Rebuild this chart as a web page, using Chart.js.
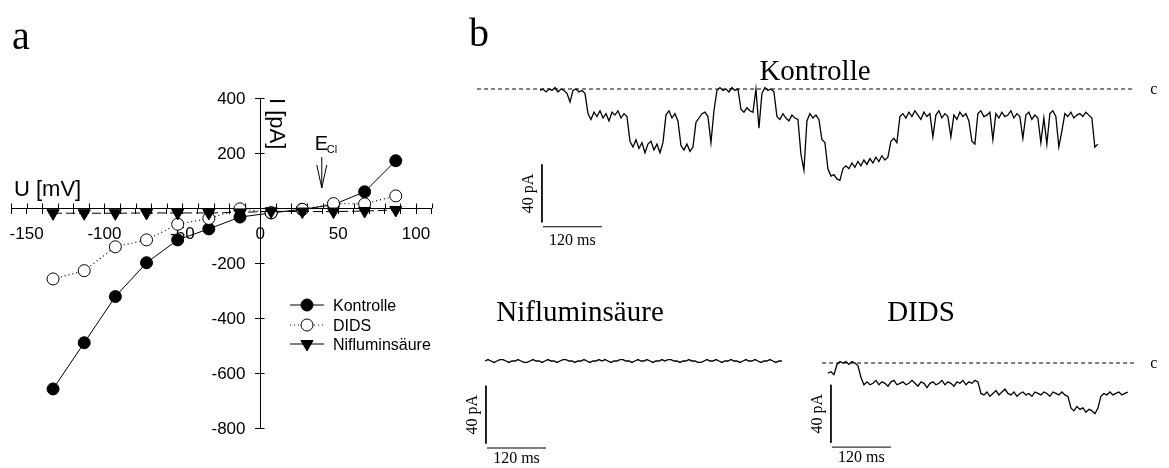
<!DOCTYPE html>
<html>
<head>
<meta charset="utf-8">
<script src="https://cdn.jsdelivr.net/npm/chart.js@4.4.1/dist/chart.umd.min.js"></script>
<style>
    body { margin: 0; background: #fff; width: 1169px; height: 468px; overflow: hidden; position: relative; }
    canvas { position: absolute; }
</style>
</head>
<body>
<canvas id="iv" width="460" height="468" style="left:0;top:0"></canvas>
<canvas id="kon" width="699" height="200" style="left:470px;top:50px"></canvas>
<canvas id="nif" width="340" height="178" style="left:460px;top:290px"></canvas>
<canvas id="dids" width="369" height="178" style="left:800px;top:290px"></canvas>
<script>
/**
 * Panel a : current / voltage relation
 */
var voltage   = [-133, -113, -93, -73, -53, -33, -13, 7, 27, 47, 67, 87];
var kontrolle = [-658, -490, -322, -199, -116, -76, -33, -18, -5, 12, 59, 172];
var dids      = [-258, -228, -141, -116, -59, -38, -3, -17, -5, 16, 15, 44];
var niflumin  = [-19, -19, -19, -18, -18, -18, -16, -12, -13, -13, -11, -7];
var xTickLabels = [-150, -100, -50, 0, 50, 100];
var yTickLabels = [400, 200, -200, -400, -600, -800];
var eCl = 39.5;              // reversal potential for Cl- (mV)
var eClArrow = [185, 73];    // arrow from / to (pA)

/**
 * Panel b : single channel traces (pA, 0 = closed level), one sample each 6.1 ms
 */
var sampleMs = 6.1;
var kontrolleTrace = [
    -1, 0, -2, 0, -1, 1, -2, 0, -1, -3, -9, -1, 0, -2, -1, -3,
    -17, -21, -16, -19, -15, -20, -17, -22, -16, -18, -15, -20, -17, -19,
    -36, -40, -35, -41, -37, -44, -38, -36, -42, -38, -44, -37,
    -18, -15, -20, -17, -22,
    -39, -42, -38, -43, -40,
    -23, -20, -17, -16, -19, -37, -15,
    -1, 1, -1, 0, -2, 1, -1, 0,
    -14, -16, -13, -15, -16,
    0, -27, -3, 1, -1, 0, -2,
    -19, -21, -17, -20, -22, -18, -20, -21,
    -45, -56,
    -22, -17, -20, -18, -21,
    -35, -37,
    -55, -60, -59, -62, -63, -55, -53, -55, -51, -54, -50, -53, -49, -52, -48, -51, -47, -50, -46, -49, -47,
    -36, -34, -37,
    -19, -17, -20, -16, -19, -15, -18, -21, -16, -19, -17, -33, -18, -15, -20, -17, -19, -33, -18, -21,
    -16, -19, -17, -22, -36, -38, -17, -15, -19, -18, -16, -35, -17, -20, -16, -19, -18, -15, -20, -17,
    -19, -34, -18, -16, -21, -18, -20, -37, -20, -38, -17, -15, -19, -40, -29, -17, -19, -16, -20, -18,
    -17, -19, -16, -18, -20,
    -40, -38
];
var niflTrace = [
    0, 1, 0, -1, 0, 1, 1, 0, -1, 0, 0, 1, 0, -1, -1, 0, 1, 0, 0, -1,
    0, 1, 0, 0, -1, 0, 1, 1, 0, 0, -1, 0, 0, 1, 0, -1, 0, 0, 1, 0,
    1, 0, -1, 0, 0, 1, 1, 0, 0, -1, 0, 1, 0, 0, 1, 0, -1, 0, 0, 1,
    0, 1, 1, 0, 0, -1, 0, 0, 1, 0, 0, -1, -1, 0, 1, 0, 0, 1, 0, -1,
    0, 0, 1, 0, 0, -1, 0, 1, 0, 0, 1, 0, -1, 0, 0, 1, 0, -1, 0, 0
];
var didsTrace = [
    -7, -6, -8, -1, 1, 0, 1, -1, 1, 0, -2, -10, -15,
    -13, -15, -14, -12, -15, -13, -14, -16, -13, -12, -15, -14, -13, -15, -14, -12, -14, -16, -13, -14,
    -17, -14, -13, -15, -14, -12, -15, -13, -14, -16, -13, -14, -12, -15, -13, -14, -12, -13,
    -21, -22, -20, -23, -21, -19, -22, -20, -18, -21, -22, -20, -23, -21, -20, -22, -21, -23, -20, -21,
    -22, -20, -21, -23, -20, -21, -22, -20, -22, -23,
    -31, -33, -30, -32, -31, -34, -32, -33, -35, -31,
    -23, -21, -22, -20, -22, -21, -20, -22, -21, -20
];
var barPA = 40;
var barMS = 120;

Chart.defaults.font.family = '"Liberation Sans", Arial, sans-serif';
Chart.defaults.color = '#000';

var SANS = '"Liberation Sans", Arial, sans-serif';
var SERIF = '"Liberation Serif", "Times New Roman", serif';

function drawText(ctx, txt, x, y, font, align, angle) {
    ctx.save();
    ctx.translate(x, y);
    if (angle) ctx.rotate(angle);
    ctx.font = font;
    ctx.textAlign = align || 'left';
    ctx.textBaseline = 'alphabetic';
    ctx.fillStyle = '#000';
    ctx.fillText(txt, 0, 0);
    ctx.restore();
}

function marker(ctx, style, r, x, y, fill) {
    ctx.save();
    ctx.beginPath();
    if (style === 'circle') {
        ctx.arc(x, y, r, 0, Math.PI * 2);
    } else {
        // down pointing triangle
        ctx.moveTo(x, y + r);
        ctx.lineTo(x - r * Math.sin(Math.PI / 3), y - r / 2);
        ctx.lineTo(x + r * Math.sin(Math.PI / 3), y - r / 2);
        ctx.closePath();
    }
    ctx.fillStyle = fill;
    ctx.fill();
    ctx.lineWidth = 1;
    ctx.strokeStyle = '#000';
    ctx.setLineDash([]);
    ctx.stroke();
    ctx.restore();
}

function pairs(xs, ys) {
    return xs.map(function (v, i) { return {x: v, y: ys[i]}; });
}

/**
 * Axis extras: inner half of the crossing ticks and y tick labels
 */
var ivAxes = {
    id: 'ivAxes',
    beforeDatasetsDraw: function (chart) {
        var ctx = chart.ctx;
        var xs = chart.scales.x, ys = chart.scales.y;
        var x0 = Math.round(xs.getPixelForValue(0)) + 0.5;
        var y0 = Math.round(ys.getPixelForValue(0)) + 0.5;
        ctx.save();
        ctx.strokeStyle = '#000';
        ctx.lineWidth = 1;
        ctx.beginPath();
        xs.ticks.forEach(function (t) {
            var px = Math.round(xs.getPixelForValue(t.value)) + 0.5;
            ctx.moveTo(px, y0);
            ctx.lineTo(px, y0 - 5);
        });
        ys.ticks.forEach(function (t) {
            var py = Math.round(ys.getPixelForValue(t.value)) + 0.5;
            ctx.moveTo(x0, py);
            ctx.lineTo(x0 + 4, py);
        });
        ctx.stroke();
        ctx.restore();
        yTickLabels.forEach(function (v) {
            drawText(ctx, String(v), x0 - 15, ys.getPixelForValue(v) + 6, '17px ' + SANS, 'right');
        });
    }
};

/**
 * Panel a texts, E_Cl arrow and legend
 */
var ivLabels = {
    id: 'ivLabels',
    afterDraw: function (chart) {
        var ctx = chart.ctx;
        var xs = chart.scales.x, ys = chart.scales.y;
        drawText(ctx, 'a', 12, 49, '40px ' + SERIF);
        drawText(ctx, 'U [mV]', 14, 196, '22px ' + SANS);
        drawText(ctx, 'I [pA]', 270, 98, '22px ' + SANS, 'left', Math.PI / 2);

        // E_Cl arrow
        var ax = xs.getPixelForValue(eCl);
        var y0 = ys.getPixelForValue(eClArrow[0]);
        var y1 = ys.getPixelForValue(eClArrow[1]);
        drawText(ctx, 'E', ax - 7, y0 - 7, '20px ' + SANS);
        drawText(ctx, 'Cl', ax + 5, y0 - 4, '11px ' + SANS);
        ctx.save();
        ctx.strokeStyle = '#000';
        ctx.lineWidth = 1;
        ctx.beginPath();
        ctx.moveTo(ax, y0);
        ctx.lineTo(ax, y1);
        ctx.moveTo(ax - 5, y1 - 23);
        ctx.lineTo(ax, y1);
        ctx.lineTo(ax + 5, y1 - 23);
        ctx.stroke();
        ctx.restore();

        // legend
        var rows = [
            {label: 'Kontrolle', style: 'circle', fill: '#000', dash: []},
            {label: 'DIDS', style: 'circle', fill: '#fff', dash: [1, 3]},
            {label: 'Nifluminsäure', style: 'triangle', fill: '#000', dash: []}
        ];
        var ly = [305, 325, 344];
        for (var i = 0; i < rows.length; i++) {
            ctx.save();
            ctx.strokeStyle = '#000';
            ctx.lineWidth = 1;
            ctx.setLineDash(rows[i].dash);
            ctx.beginPath();
            ctx.moveTo(290, ly[i]);
            ctx.lineTo(324, ly[i]);
            ctx.stroke();
            ctx.restore();
            marker(ctx, rows[i].style, rows[i].style === 'circle' ? 6 : 7, 307, ly[i], rows[i].fill);
            drawText(ctx, rows[i].label, 333, ly[i] + 6, '16px ' + SANS);
        }
    }
};

new Chart(document.getElementById('iv'), {
    type: 'line',
    data: {
        datasets: [{
            label: 'Nifluminsäure',
            data: pairs(voltage, niflumin),
            borderColor: '#000', borderWidth: 1, borderDash: [9, 4],
            pointStyle: 'triangle', rotation: 180, pointRadius: 7,
            pointBackgroundColor: '#000', pointBorderColor: '#000'
        }, {
            label: 'DIDS',
            data: pairs(voltage, dids),
            borderColor: '#000', borderWidth: 1.2, borderDash: [1, 3],
            pointStyle: 'circle', pointRadius: 6,
            pointBackgroundColor: '#fff', pointBorderColor: '#000', pointBorderWidth: 1
        }, {
            label: 'Kontrolle',
            data: pairs(voltage, kontrolle),
            borderColor: '#000', borderWidth: 1,
            pointStyle: 'circle', pointRadius: 6,
            pointBackgroundColor: '#000', pointBorderColor: '#000'
        }]
    },
    options: {
        responsive: false,
        animation: false,
        events: [],
        clip: false,
        layout: {padding: {left: 10.4, right: 28.4, top: 98, bottom: 40}},
        plugins: {legend: {display: false}, tooltip: {enabled: false}},
        scales: {
            x: {
                type: 'linear', min: -160, max: 110,
                position: {y: 0},
                afterFit: function (s) { s.height = 0; },
                border: {color: '#000', width: 1},
                grid: {drawOnChartArea: false, color: '#000', tickLength: 5},
                ticks: {
                    stepSize: 10, autoSkip: false, maxRotation: 0, padding: 11,
                    font: {size: 17},
                    callback: function (v) { return xTickLabels.indexOf(v) >= 0 ? String(v) : ''; }
                }
            },
            y: {
                type: 'linear', min: -800, max: 400,
                position: {x: 0},
                afterFit: function (s) { s.width = 0; },
                border: {color: '#000', width: 1},
                grid: {drawOnChartArea: false, color: '#000', tickLength: 5},
                ticks: {stepSize: 200, display: false}
            }
        }
    },
    plugins: [ivAxes, ivLabels]
});

/**
 * Panel b
 */
var MS_PX = 120 / 59;   // ms per pixel
var PA_PX = 40 / 58;    // pA per pixel

function traceChart(id, o) {
    var trace = o.values.map(function (v, i) { return {x: i * sampleMs, y: v}; });
    var line = {borderColor: '#000', borderWidth: 1, pointRadius: 0, tension: 0};
    var sets = [Object.assign({data: trace}, line, {borderWidth: 1.3})];
    if (o.closed) {
        sets.push(Object.assign({data: [{x: o.closed[0], y: 0}, {x: o.closed[1], y: 0}], borderDash: [4, 3]}, line));
    }
    sets.push(Object.assign({data: [{x: o.bar[0], y: o.bar[1]}, {x: o.bar[0], y: o.bar[1] - barPA}]}, line));
    sets.push(Object.assign({data: [{x: o.bar[0] + 2, y: o.bar[1] - barPA - 3},
                                    {x: o.bar[0] + 2 + barMS, y: o.bar[1] - barPA - 3}]}, line));

    var labels = {
        id: 'traceLabels',
        afterDraw: function (chart) {
            var ctx = chart.ctx;
            var xs = chart.scales.x, ys = chart.scales.y;
            drawText(ctx, o.title, o.titleX - o.left, o.titleY - o.top, '29px ' + SERIF, 'center');
            if (o.closed) {
                drawText(ctx, 'c', xs.getPixelForValue(o.closed[1]) + 19, ys.getPixelForValue(0) + 5, '16px ' + SERIF, 'center');
            }
            var bx = xs.getPixelForValue(o.bar[0]);
            var by = (ys.getPixelForValue(o.bar[1]) + ys.getPixelForValue(o.bar[1] - barPA)) / 2;
            drawText(ctx, '40 pA', bx - 9, by, '16px ' + SERIF, 'center', -Math.PI / 2);
            var hx = xs.getPixelForValue(o.bar[0] + 2 + barMS / 2);
            var hy = ys.getPixelForValue(o.bar[1] - barPA - 3);
            drawText(ctx, '120 ms', hx, hy + o.msGap, '16px ' + SERIF, 'center');
        }
    };

    new Chart(document.getElementById(id), {
        type: 'line',
        data: {datasets: sets},
        options: {
            responsive: false,
            animation: false,
            events: [],
            layout: {padding: 0},
            plugins: {legend: {display: false}, tooltip: {enabled: false}},
            scales: {
                x: {type: 'linear', display: false,
                    min: (o.left - o.ox) * MS_PX, max: (o.left + o.w - o.ox) * MS_PX},
                y: {type: 'linear', display: false,
                    min: (o.oy - o.top - o.h) * PA_PX, max: (o.oy - o.top) * PA_PX}
            }
        },
        plugins: [labels]
    });
}

traceChart('kon', {
    values: kontrolleTrace, left: 470, top: 50, w: 699, h: 200, ox: 540, oy: 89,
    closed: [-128, 1210], bar: [4, -52], msGap: 18,
    title: 'Kontrolle', titleX: 815, titleY: 80
});
traceChart('nif', {
    values: niflTrace, left: 460, top: 290, w: 340, h: 178, ox: 485, oy: 361,
    closed: null, bar: [2, -17], msGap: 15,
    title: 'Nifluminsäure', titleX: 580, titleY: 321
});
traceChart('dids', {
    values: didsTrace, left: 800, top: 290, w: 369, h: 178, ox: 828, oy: 363,
    closed: [-12, 624], bar: [6, -15], msGap: 15,
    title: 'DIDS', titleX: 921, titleY: 321
});
</script>
<div style="position:absolute;left:469px;top:13px;font:40px 'Liberation Serif', serif;line-height:40px">b</div>
</body>
</html>
